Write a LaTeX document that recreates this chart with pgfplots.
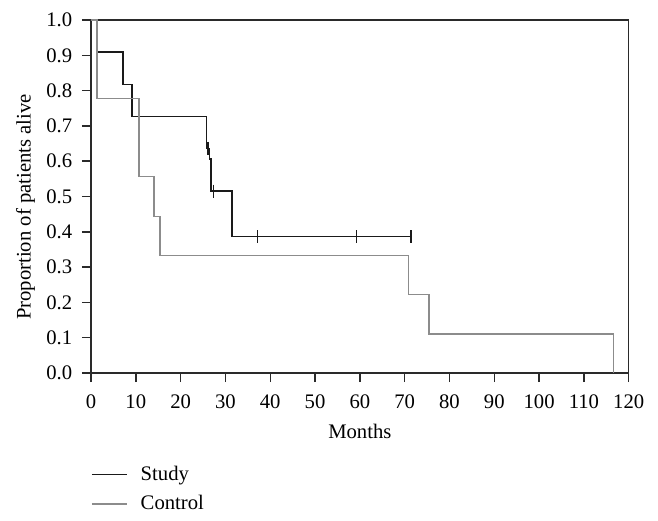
\documentclass[border=0pt]{standalone}
\usepackage{pgfplots}
\pgfplotsset{compat=1.18}
\usepackage{fontspec}
\setmainfont{Liberation Serif}
\definecolor{studyc}{HTML}{1A1A1A}
\definecolor{controlc}{HTML}{8C8C8C}
\definecolor{framec}{HTML}{2A2A2A}
\begin{document}
\fontsize{15.5}{18}\selectfont
\begin{tikzpicture}
\begin{axis}[
  scale only axis,
  width=403.3pt, height=264.75pt,
  xmin=0, xmax=120, ymin=0, ymax=1,
  xtick={0,10,...,120},
  ytick={0,0.1,...,1.0},
  y tick label style={/pgf/number format/fixed, /pgf/number format/fixed zerofill, /pgf/number format/precision=1, xshift=-2pt},
  /pgf/number format/assume math mode=true,
  tick align=outside,
  tick pos=left,
  major tick length=6.75pt,
  axis line style={framec, line width=1.1pt},
  every tick/.style={framec, line width=1.1pt},
  tick label style={font=\fontsize{15.5}{18}\selectfont},
  x tick label style={yshift=-4.5pt},
  label style={font=\fontsize{15.5}{18}\selectfont},
  xlabel={Months},
  ylabel={Proportion of patients alive},
  xlabel style={at={(axis description cs:0.5,0)}, anchor=base, yshift=-49.5pt},
  ylabel style={at={(axis description cs:0,0.47)}, anchor=center, yshift=49pt},
  legend style={at={(axis description cs:0,0)}, anchor=north west, xshift=0pt, yshift=-67.5pt,
    draw=none, fill=none, inner sep=0pt, row sep=5pt, font=\fontsize{15.5}{18}\selectfont,
    legend cell align=left},
  legend image code/.code={\draw[#1] (0pt,0pt) -- (26pt,0pt); \path (34pt,0pt);},
  clip=false,
]
\addplot[const plot, studyc, line width=1.1pt] coordinates {
  (0,1) (1.3,0.909) (7.1,0.818) (9.1,0.727) (25.8,0.636) (26.4,0.606) (26.8,0.515) (31.5,0.386) (71.4,0.386)};
\addlegendentry{Study}
\addplot[const plot, controlc, line width=1.1pt] coordinates {
  (0,1) (1.3,0.778) (10.7,0.556) (14.1,0.444) (15.4,0.333) (70.8,0.222) (75.4,0.111) (116.6,0.111) (116.6,0)};
\addlegendentry{Control}
\addplot[only marks, mark=|, mark size=5pt, studyc, line width=1.1pt, forget plot] coordinates {
  (26.1,0.636) (27.3,0.515) (37.2,0.386) (59.3,0.386) (71.4,0.386)};
\end{axis}
\path[use as bounding box] (-68.25pt,-111pt) rectangle (425.25pt,279.75pt);
\end{tikzpicture}
\end{document}
